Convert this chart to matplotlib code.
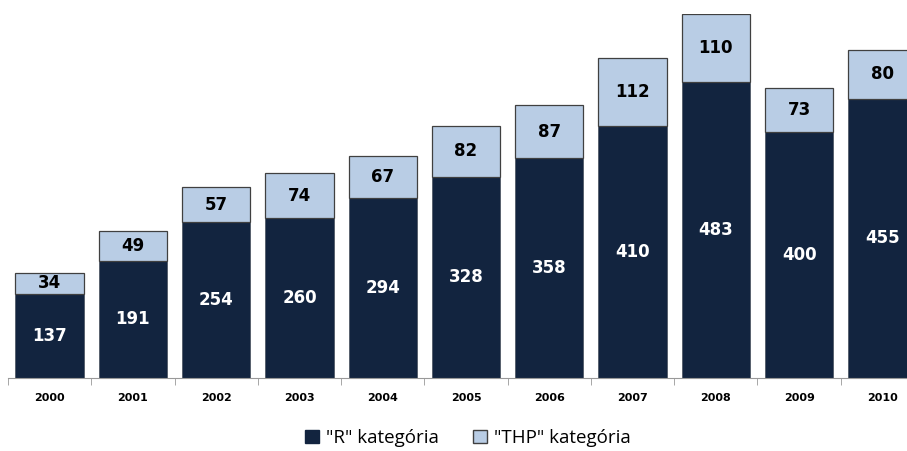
import matplotlib.pyplot as plt
from matplotlib.patches import Patch

years = ['2000', '2001', '2002', '2003', '2004', '2005',
         '2006', '2007', '2008', '2009', '2010']
r_cat = [137, 191, 254, 260, 294, 328, 358, 410, 483, 400, 455]
thp_cat = [34, 49, 57, 74, 67, 82, 87, 112, 110, 73, 80]

dark = '#12243f'
light = '#b9cde5'

plt.rcParams['font.family'] = ['DejaVu Sans']

fig = plt.figure(figsize=(9.07, 4.51), dpi=100)
ax = fig.add_axes([8 / 907, 73 / 451, 916 / 907, 364 / 451])

x = list(range(len(years)))
ax.bar(x, r_cat, width=0.82, color=dark, edgecolor='#505a66', linewidth=0.6)
ax.bar(x, thp_cat, width=0.82, bottom=r_cat, color=light,
       edgecolor='#404040', linewidth=0.9)

for i in x:
    ax.text(i, r_cat[i] / 2, str(r_cat[i]), ha='center', va='center',
            color='white', fontsize=12, fontweight='bold')
    ax.text(i, r_cat[i] + thp_cat[i] / 2, str(thp_cat[i]), ha='center',
            va='center', color='black', fontsize=12, fontweight='bold')

ax.set_xlim(-0.5, len(years) - 0.5)
ax.set_ylim(0, 593)
for s in ['top', 'right', 'left']:
    ax.spines[s].set_visible(False)
ax.spines['bottom'].set_color('#999999')
ax.set_yticks([])

# category labels in the middle, tick marks on the boundaries
ax.set_xticks(x)
ax.set_xticklabels(years, fontsize=8, fontweight='bold')
ax.tick_params(axis='x', length=0, pad=11)
ax.set_xticks([i - 0.5 for i in range(len(years) + 1)], minor=True)
ax.tick_params(axis='x', which='minor', length=5, color='#999999')

handles = [Patch(facecolor=dark, edgecolor=dark, label='"R" kategória'),
           Patch(facecolor=light, edgecolor='#404040', label='"THP" kategória')]
fig.legend(handles=handles, loc='center', bbox_to_anchor=(468 / 907, 1 - 438 / 451),
           ncol=2, frameon=False, handlelength=0.75, handleheight=0.75,
           handletextpad=0.4, columnspacing=1.8,
           prop={'family': 'Open Sans', 'size': 13.5})

fig.savefig('out.png', dpi=100)
